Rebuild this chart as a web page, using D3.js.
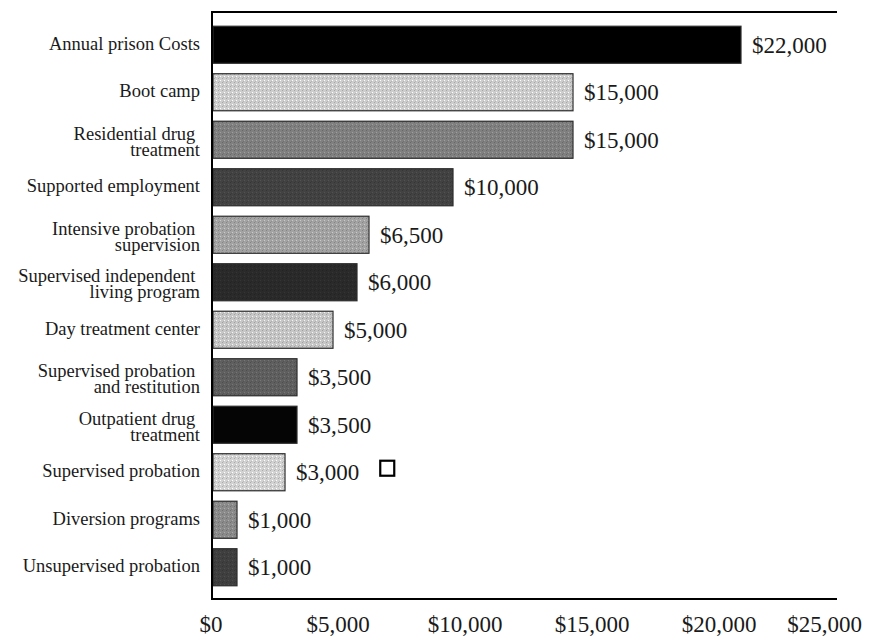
<!DOCTYPE html>
<html>
<head>
<meta charset="utf-8">
<script src="https://cdn.jsdelivr.net/npm/d3@7"></script>
<style>
  html, body { margin: 0; padding: 0; background: #fff; }
  svg { display: block; }
  text { font-family: "Liberation Serif", "DejaVu Serif", serif; fill: #1a1a1a; }
</style>
</head>
<body>
<svg id="chart" width="876" height="636"></svg>
<script>
// Program cost per participant, annual
const categories = [
  "Annual prison Costs",
  "Boot camp",
  "Residential drug\ntreatment",
  "Supported employment",
  "Intensive probation\nsupervision",
  "Supervised independent\nliving program",
  "Day treatment center",
  "Supervised probation\nand restitution",
  "Outpatient drug\ntreatment",
  "Supervised probation",
  "Diversion programs",
  "Unsupervised probation"
];
const values = [22000, 15000, 15000, 10000, 6500, 6000, 5000, 3500, 3500, 3000, 1000, 1000];
const valueLabels = ["$22,000", "$15,000", "$15,000", "$10,000", "$6,500", "$6,000",
                     "$5,000", "$3,500", "$3,500", "$3,000", "$1,000", "$1,000"];
const shades = ["#000000", "#cdcdcd", "#808080", "#424242", "#a3a3a3", "#2a2a2a",
                "#c6c6c6", "#5f5f5f", "#050505", "#d2d2d2", "#8b8b8b", "#3f3f3f"];
const tickValues = [0, 5000, 10000, 15000, 20000, 25000];
const tickLabels = ["$0", "$5,000", "$10,000", "$15,000", "$20,000", "$25,000"];

const W = 876;
const svg = d3.select("#chart");
const plotLeft = 213, plotRight = 837, plotTop = 12, plotBottom = 599;

const x = d3.scaleLinear().domain([0, 26000]).range([plotLeft, plotRight]);
const xLabel = d3.scaleLinear().domain([0, 20000]).range([211, 719]);
const y = d3.scaleBand().domain(categories).range([21, 591])
  .paddingInner(0.22).paddingOuter(0.11);

// halftone-like fill patterns
const defs = svg.append("defs");
shades.forEach((c, i) => {
  const base = d3.color(c);
  const p = defs.append("pattern").attr("id", "pat" + i)
    .attr("patternUnits", "userSpaceOnUse").attr("width", 4).attr("height", 4);
  p.append("rect").attr("width", 4).attr("height", 4).attr("fill", c);
  if (base.r > 20) {
    p.append("rect").attr("x", 0).attr("y", 0).attr("width", 1).attr("height", 1)
      .attr("fill", base.brighter(0.6));
    p.append("rect").attr("x", 2).attr("y", 2).attr("width", 1).attr("height", 1)
      .attr("fill", base.darker(0.6));
    p.append("rect").attr("x", 3).attr("y", 1).attr("width", 1).attr("height", 1)
      .attr("fill", base.darker(0.35));
  }
});

// bars
svg.append("g").selectAll("rect").data(values).join("rect")
  .attr("x", x(0))
  .attr("y", (d, i) => y(categories[i]))
  .attr("width", d => x(d) - x(0))
  .attr("height", y.bandwidth())
  .attr("fill", (d, i) => `url(#pat${i})`)
  .attr("stroke", "#2b2b2b")
  .attr("stroke-width", 1.2);

// value labels
const vl = svg.append("g").selectAll("text").data(values).join("text")
  .attr("x", d => x(d) + 11)
  .attr("y", (d, i) => y(categories[i]) + y.bandwidth() / 2 + 8)
  .attr("font-size", 23)
  .text((d, i) => valueLabels[i]);

// outlined square next to the supervised probation value
const spIdx = categories.indexOf("Supervised probation");
const spBox = vl.nodes()[spIdx].getBBox();
svg.append("rect")
  .attr("x", spBox.x + spBox.width + 21)
  .attr("y", y(categories[spIdx]) + 7)
  .attr("width", 14).attr("height", 15)
  .attr("fill", "#fff").attr("stroke", "#000").attr("stroke-width", 2.2);

// category labels, right-aligned, wrapped onto two tight lines where needed
const cl = svg.append("g").selectAll("text").data(categories).join("text")
  .attr("text-anchor", "end")
  .attr("font-size", 18.5)
  .attr("y", d => y(d) + y.bandwidth() / 2);
cl.each(function(d) {
  const lines = d.split("\n");
  const t = d3.select(this);
  if (lines.length === 1) {
    t.append("tspan").attr("x", 200).attr("dy", 5).text(lines[0]);
  } else {
    t.append("tspan").attr("x", 200).attr("dy", 0).text(lines[0] + "\u00a0");
    t.append("tspan").attr("x", 200).attr("dy", 16).text(lines[1]);
  }
});

// frame lines
const frame = svg.append("g").attr("stroke", "#000").attr("stroke-width", 2);
frame.append("line").attr("x1", plotLeft - 1).attr("x2", plotRight).attr("y1", plotTop).attr("y2", plotTop);
frame.append("line").attr("x1", plotLeft - 1).attr("x2", plotRight).attr("y1", plotBottom).attr("y2", plotBottom);
frame.append("line").attr("x1", plotLeft - 1).attr("x2", plotLeft - 1).attr("y1", plotTop - 1).attr("y2", plotBottom + 1);

// bottom tick labels, the last one kept inside the page edge
const tl = svg.append("g").selectAll("text").data(tickValues).join("text")
  .attr("x", d => xLabel(d))
  .attr("y", 632)
  .attr("text-anchor", "middle")
  .attr("font-size", 23)
  .text((d, i) => tickLabels[i]);
tl.each(function() {
  const b = this.getBBox();
  const maxRight = W - 14;
  if (b.x + b.width > maxRight) {
    d3.select(this).attr("text-anchor", "end").attr("x", maxRight);
  }
});
</script>
</body>
</html>
